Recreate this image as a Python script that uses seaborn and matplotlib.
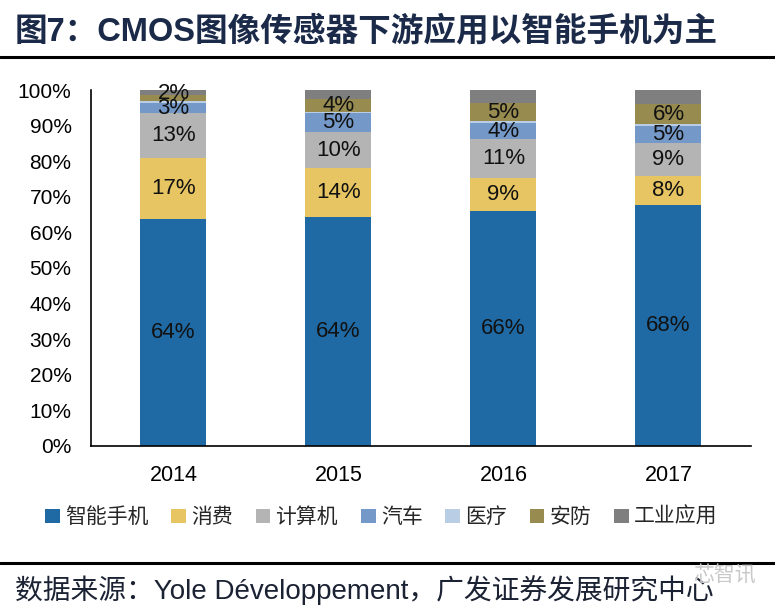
import matplotlib
matplotlib.use("Agg")
import matplotlib.pyplot as plt
import seaborn as sns
import numpy as np
import pandas as pd
from matplotlib.patches import Patch
from matplotlib.lines import Line2D

years = ["2014", "2015", "2016", "2017"]
categories = ["智能手机", "消费", "计算机", "汽车", "医疗", "安防", "工业应用"]

smartphone = [63.6, 64.2, 65.9, 67.6]
consumer = [17.2, 13.8, 9.3, 8.2]
computer = [12.7, 10.2, 11.0, 9.3]
auto = [2.8, 5.3, 4.4, 4.8]
medical = [0.6, 0.4, 0.7, 0.5]
security = [1.6, 3.6, 5.0, 5.7]
industrial = [1.5, 2.5, 3.7, 3.9]

colors = ["#1F6AA5", "#E7C562", "#B4B4B4", "#7498C8", "#B9CDE5", "#978B50", "#7F7F7F"]
labeled = ["智能手机", "消费", "计算机", "汽车", "安防"]

sns.set_theme(style="white")
plt.rcParams["font.family"] = ["Liberation Sans", "Noto Sans CJK SC"]

df = pd.DataFrame({"year": years})
series = [smartphone, consumer, computer, auto, medical, security, industrial]
for name, vals in zip(categories, series):
    df[name] = vals
cum = df[categories].cumsum(axis=1)

fig = plt.figure(figsize=(7.75, 6.09), dpi=100)
ax = fig.add_axes([0.1174, 0.2681, 0.8516, 0.5841])

# stacked bars: draw cumulative totals from the top segment down
for name, col in reversed(list(zip(categories, colors))):
    sns.barplot(x="year", y=cum[name], data=df,
                color=col, width=0.4, ax=ax, saturation=1, linewidth=0)

for i in range(len(years)):
    for name in labeled:
        v = df[name][i]
        mid = cum[name][i] - v / 2
        if name == "安防" and years[i] == "2014":
            mid = 99
        ax.text(i, mid, f"{v:.0f}%", ha="center", va="center",
                fontsize=16, color="#111111")

ax.set_ylim(0, 100)
ax.set_xlim(-0.5, 3.5)
ax.set_yticks(np.arange(0, 101, 10))
ax.set_yticklabels([f"{t}%" for t in range(0, 101, 10)], fontsize=15)
ax.set_xticks(range(len(years)))
ax.set_xticklabels(years, fontsize=15.5)
ax.set_xticks(np.arange(-0.5, 3.6, 1), minor=True)
ax.tick_params(axis="x", which="major", length=0, pad=14, colors="black")
ax.tick_params(axis="x", which="minor", length=6, width=1.2, direction="out", color="black")
ax.tick_params(axis="y", length=6, width=1.2, direction="out", colors="black", pad=8)
ax.set_xlabel("")
ax.set_ylabel("")
for s in ["top", "right"]:
    ax.spines[s].set_visible(False)
for s in ["left", "bottom"]:
    ax.spines[s].set_color("black")
    ax.spines[s].set_linewidth(1.2)

handles = [Patch(facecolor=c, edgecolor="none") for c in colors]
fig.legend(handles, categories, loc="center", bbox_to_anchor=(0.492, 0.151), ncol=7,
           frameon=False, fontsize=15, handlelength=0.7, handleheight=0.7,
           handletextpad=0.25, columnspacing=1.1)

fig.text(0.019, 1 - 32 / 609, "图7：CMOS图像传感器下游应用以智能手机为主", fontsize=23.5,
         fontweight="bold", color="#1B2A48", va="center", ha="left")
fig.add_artist(Line2D([0, 1], [1 - 57 / 609, 1 - 57 / 609], color="black", linewidth=2.2))
fig.add_artist(Line2D([0, 1], [1 - 563 / 609, 1 - 563 / 609], color="black", linewidth=2.2))
fig.text(0.019, 1 - 590 / 609, "数据来源：Yole Développement，广发证券发展研究中心", fontsize=20,
         color="#1B2233", va="center", ha="left")
fig.text(0.935, 1 - 576 / 609, "芯智讯", fontsize=15, color="#C8C8C8", va="center", ha="center")

fig.savefig("out.png", dpi=100)
